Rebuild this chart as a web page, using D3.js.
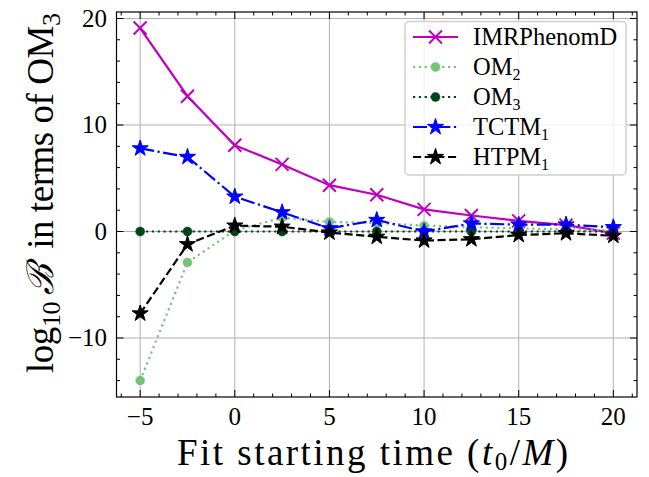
<!DOCTYPE html>
<html><head><meta charset="utf-8">
<script src="https://cdn.jsdelivr.net/npm/d3@7"></script>
<style>html,body{margin:0;padding:0;background:#fff;}svg{display:block;}</style>
</head><body>
<svg id="c" width="649" height="477"></svg>
<script>
const xVals = [-5, -2.5, 0, 2.5, 5, 7.5, 10, 12.5, 15, 17.5, 20];
const imrPhenomD = [19.1, 12.7, 8.1, 6.3, 4.35, 3.45, 2.08, 1.5, 1.0, 0.6, -0.15];
const om2 = [-14.0, -2.9, 0.1, 1.3, 0.9, 0.8, 0.55, 0.4, 0.3, 0.2, 0.1];
const om3 = [0, 0, 0, 0, 0, 0, 0, 0, 0, 0, 0];
const tctm1 = [7.8, 7.0, 3.27, 1.8, 0.3, 1.08, 0.0, 0.75, 0.65, 0.65, 0.4];
const htpm1 = [-7.7, -1.2, 0.55, 0.45, -0.1, -0.5, -0.85, -0.73, -0.33, -0.17, -0.4];
const xTicks = [-5, 0, 5, 10, 15, 20];
const yTicks = [-10, 0, 10, 20];
const seriesNames = ["IMRPhenomD", "OM2", "OM3", "TCTM1", "HTPM1"];

const W = 649, H = 477;
const L = 116.5, R = 637, T = 12, B = 397;
const svg = d3.select("#c");
const x = d3.scaleLinear().domain([-6.25, 21.25]).range([L, R]);
const y = d3.scaleLinear().domain([-15.54, 20.61]).range([B, T]);
const FONT = "'Liberation Serif', 'Times New Roman', serif";
const LW = 2.2;

// grid
const g = svg.append("g");
g.selectAll("line.gx").data(xTicks).enter().append("line")
  .attr("x1", d => x(d)).attr("x2", d => x(d)).attr("y1", T).attr("y2", B)
  .attr("stroke", "#b0b0b0").attr("stroke-width", 1);
g.selectAll("line.gy").data(yTicks).enter().append("line")
  .attr("y1", d => y(d)).attr("y2", d => y(d)).attr("x1", L).attr("x2", R)
  .attr("stroke", "#b0b0b0").attr("stroke-width", 1);

// series
const series = [
  {name: seriesNames[0], vals: imrPhenomD, color: "#bf00bf", dash: null, marker: "x"},
  {name: seriesNames[1], vals: om2, color: "#74c476", dash: [LW*1, LW*1.65], marker: "o"},
  {name: seriesNames[2], vals: om3, color: "#00441b", dash: [LW*1, LW*1.65], marker: "o"},
  {name: seriesNames[3], vals: tctm1, color: "#0000ff", dash: [LW*6.4, LW*1.6, LW*1, LW*1.6], marker: "*"},
  {name: seriesNames[4], vals: htpm1, color: "#000000", dash: [LW*3.7, LW*1.6], marker: "*"},
];

function starPath(r) {
  const pts = [];
  for (let i = 0; i < 10; i++) {
    const rr = i % 2 === 0 ? r : r * 0.381966;
    const a = -Math.PI / 2 + i * Math.PI / 5;
    pts.push([rr * Math.cos(a), rr * Math.sin(a)]);
  }
  return "M" + pts.map(p => p[0].toFixed(2) + "," + p[1].toFixed(2)).join("L") + "Z";
}
function drawMarker(sel, m, color) {
  if (m === "x") {
    const s = 6.5;
    sel.append("path").attr("d", `M${-s},${-s}L${s},${s}M${-s},${s}L${s},${-s}`)
      .attr("stroke", color).attr("stroke-width", 2).attr("fill", "none");
  } else if (m === "o") {
    sel.append("circle").attr("r", 4.5).attr("fill", color).attr("stroke", color).attr("stroke-width", 0.5);
  } else {
    sel.append("path").attr("d", starPath(8.5)).attr("fill", color).attr("stroke", color)
      .attr("stroke-width", 1).attr("stroke-linejoin", "miter");
  }
}
const lineGen = d3.line().x(d => x(d[0])).y(d => y(d[1]));
const plot = svg.append("g");
series.forEach(s => {
  const data = xVals.map((xv, i) => [xv, s.vals[i]]);
  const sg = plot.append("g");
  sg.append("path").attr("d", lineGen(data)).attr("fill", "none")
    .attr("stroke", s.color).attr("stroke-width", LW)
    .attr("stroke-dasharray", s.dash ? s.dash.join(",") : null);
  data.forEach(d => {
    const mg = sg.append("g").attr("transform", `translate(${x(d[0])},${y(d[1])})`);
    drawMarker(mg, s.marker, s.color);
  });
});

// frame and ticks
const ax = svg.append("g");
const xMinor = d3.range(-6, 22, 1).filter(v => v % 5 !== 0);
const yMinor = d3.range(-14, 21, 2).filter(v => v % 10 !== 0);
[{vals: xTicks, len: 7}, {vals: xMinor, len: 3.5}].forEach(ts => {
  ts.vals.forEach(v => {
    ax.append("line").attr("x1", x(v)).attr("x2", x(v)).attr("y1", B).attr("y2", B - ts.len).attr("stroke", "#000").attr("stroke-width", 1);
    ax.append("line").attr("x1", x(v)).attr("x2", x(v)).attr("y1", T).attr("y2", T + ts.len).attr("stroke", "#000").attr("stroke-width", 1);
  });
});
[{vals: yTicks, len: 7}, {vals: yMinor, len: 3.5}].forEach(ts => {
  ts.vals.forEach(v => {
    ax.append("line").attr("y1", y(v)).attr("y2", y(v)).attr("x1", L).attr("x2", L + ts.len).attr("stroke", "#000").attr("stroke-width", 1);
    ax.append("line").attr("y1", y(v)).attr("y2", y(v)).attr("x1", R).attr("x2", R - ts.len).attr("stroke", "#000").attr("stroke-width", 1);
  });
});
ax.append("rect").attr("x", L).attr("y", T).attr("width", R - L).attr("height", B - T)
  .attr("fill", "none").attr("stroke", "#000").attr("stroke-width", 1.2);

const fmt = v => v < 0 ? "\u2212" + Math.abs(v) : String(v);
ax.selectAll("text.xt").data(xTicks).enter().append("text")
  .attr("x", d => x(d)).attr("y", 425).attr("text-anchor", "middle")
  .attr("font-family", FONT).attr("font-size", 25).text(fmt);
ax.selectAll("text.yt").data(yTicks).enter().append("text")
  .attr("x", 107).attr("y", d => y(d) + 8.5).attr("text-anchor", "end")
  .attr("font-family", FONT).attr("font-size", 25).text(fmt);

// axis labels
const xl = svg.append("text").attr("x", 177).attr("y", 465)
  .attr("font-family", FONT).attr("font-size", 37)
  .attr("textLength", 391).attr("lengthAdjust", "spacing");
xl.append("tspan").text("Fit starting time (");
xl.append("tspan").attr("font-style", "italic").text("t");
xl.append("tspan").attr("font-size", 25).attr("dy", 5).text("0");
xl.append("tspan").attr("dy", -5).text("/");
xl.append("tspan").attr("font-style", "italic").text("M");
xl.append("tspan").text(")");

const yl = svg.append("text").attr("transform", "translate(53,373) rotate(-90)")
  .attr("font-family", FONT).attr("font-size", 37)
  .attr("textLength", 360).attr("lengthAdjust", "spacing");
yl.append("tspan").text("log");
yl.append("tspan").attr("font-size", 26).attr("dy", 7).text("10");
yl.append("tspan").attr("dy", -7).text("\u2009");
yl.append("tspan").attr("font-family", "'DejaVu Serif', serif").attr("font-style", "italic").text("\u212C");
yl.append("tspan").text("\u2009 in terms of OM");
yl.append("tspan").attr("font-size", 26).attr("dy", 7).text("3");

// legend
const lg = svg.append("g");
lg.append("rect").attr("x", 405).attr("y", 21.5).attr("width", 221).attr("height", 153.5)
  .attr("rx", 4).attr("fill", "#fff").attr("fill-opacity", 0.8)
  .attr("stroke", "#d0d0d0").attr("stroke-width", 1.5);
const legY = [37, 67, 97, 127, 157];
series.forEach((s, i) => {
  const yy = legY[i];
  const eg = lg.append("g");
  eg.append("line").attr("x1", 413).attr("x2", 458).attr("y1", yy).attr("y2", yy)
    .attr("stroke", s.color).attr("stroke-width", LW)
    .attr("stroke-dasharray", s.dash ? s.dash.join(",") : null);
  const mg = eg.append("g").attr("transform", `translate(435.5,${yy})`);
  drawMarker(mg, s.marker, s.color);
  const t = eg.append("text").attr("x", 473).attr("y", yy + 8).attr("font-family", FONT).attr("font-size", 24.5);
  const m = s.name.match(/^(.*?)(\d)$/);
  if (m) {
    t.append("tspan").text(m[1]);
    t.append("tspan").attr("font-size", 16).attr("dy", 4.5).text(m[2]);
  } else {
    t.text(s.name);
  }
});
</script>
</body></html>
